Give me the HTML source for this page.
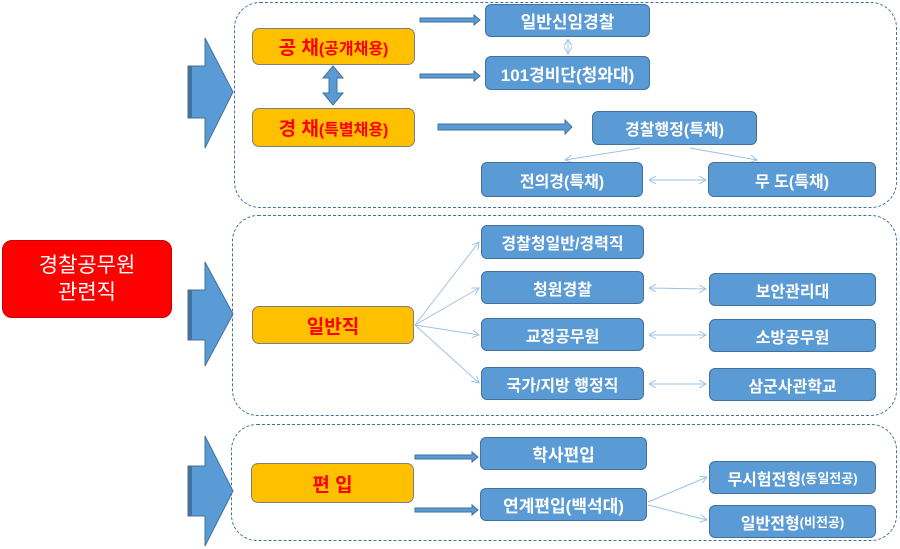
<!DOCTYPE html>
<html><head><meta charset="utf-8"><style>
body{margin:0;width:900px;height:549px;background:#fff;position:relative;overflow:hidden;font-family:"Liberation Sans","Noto Sans CJK KR",sans-serif;font-weight:bold}
.b{position:absolute;background:#5b9bd5;border:1px solid #41719c;border-radius:6px;color:#fff;display:flex;align-items:center;justify-content:center;font-size:16px;box-sizing:border-box}
.o{position:absolute;background:#ffc000;border:1px solid #7f7f7f;border-radius:7px;color:#f00;display:flex;align-items:center;justify-content:center;font-size:19px;box-sizing:border-box}
.c{position:absolute;border:1.5px dashed #41719c;border-radius:26px;box-sizing:border-box}
small{font-size:13px}
</style></head><body>
<div class="c" style="left:234px;top:2px;width:663px;height:206px"></div>
<div class="c" style="left:232px;top:215px;width:665px;height:201px"></div>
<div class="c" style="left:231px;top:424px;width:666px;height:117px"></div>
<svg width="900" height="549" style="position:absolute;left:0;top:0">
<defs><marker id="t" markerWidth="8" markerHeight="8" refX="7" refY="4" orient="auto"><path d="M0,0 L7,4 L0,8" fill="none" stroke="#9dc3e6" stroke-width="1"/></marker>
<marker id="ts" markerWidth="8" markerHeight="8" refX="1" refY="4" orient="auto"><path d="M7,0 L0,4 L7,8" fill="none" stroke="#9dc3e6" stroke-width="1"/></marker></defs>
<g fill="#5b9bd5" stroke="#41719c" stroke-width="1">
<path d="M188,66 H205 V38 L233,92 L205,148 V118 H188Z"/>
<path d="M188,290 H205 V262 L233,314 L205,366 V340 H188Z"/>
<path d="M188,466 H205 V436 L233,491 L205,546 V516 H188Z"/>
<path d="M420,18 H474 V15 L480,20 L474,25 V22 H420Z"/>
<path d="M420,74 H474 V71 L480,76 L474,81 V78 H420Z"/>
<path d="M438,124 H565 V120 L572,127 L565,134 V130 H438Z"/>
<path d="M415,455 H472 V452 L478,457 L472,462 V459 H415Z"/>
<path d="M415,508 H472 V505 L478,510 L472,515 V512 H415Z"/>
<path d="M333,66 L343,78 H337 V93 H343 L333,105 L323,93 H329 V78 H323Z"/>
</g>
<g fill="#41719c"><rect x="188" y="66" width="4" height="52"/><rect x="188" y="290" width="4" height="50"/><rect x="188" y="466" width="4" height="50"/></g>
<g stroke="#9dc3e6" stroke-width="1" fill="none" marker-end="url(#t)">
<line x1="568" y1="40" x2="568" y2="54" marker-start="url(#ts)"/>
<line x1="640" y1="148" x2="565" y2="160"/><line x1="690" y1="148" x2="757" y2="160"/>
<line x1="650" y1="180" x2="706" y2="180" marker-start="url(#ts)"/>
<line x1="415" y1="325" x2="479" y2="242"/><line x1="415" y1="325" x2="479" y2="288"/>
<line x1="415" y1="325" x2="479" y2="335"/><line x1="415" y1="325" x2="479" y2="383"/>
<line x1="650" y1="288" x2="706" y2="289" marker-start="url(#ts)"/>
<line x1="650" y1="335" x2="706" y2="335" marker-start="url(#ts)"/>
<line x1="650" y1="384" x2="706" y2="384" marker-start="url(#ts)"/>
<line x1="648" y1="502" x2="707" y2="477"/><line x1="648" y1="505" x2="707" y2="520"/>
</g></svg>
<div style="position:absolute;left:2px;top:240px;width:170px;height:78px;background:#f00;border:1px solid #c00;border-radius:10px;box-sizing:border-box;color:#fff;font-weight:normal;font-size:21px;text-align:center;line-height:27px;padding-top:11px">경찰공무원<br>관련직</div>
<div class="o" style="left:252px;top:28px;width:163px;height:37px">공 채<span style="font-size:16px">(공개채용)</span></div>
<div class="o" style="left:252px;top:108px;width:163px;height:39px">경 채<span style="font-size:16px">(특별채용)</span></div>
<div class="o" style="left:252px;top:306px;width:162px;height:38px">일반직</div>
<div class="o" style="left:251px;top:463px;width:163px;height:40px">편 입</div>
<div class="b" style="left:485px;top:4px;width:165px;height:33px;font-size:17px">일반신임경찰</div>
<div class="b" style="left:485px;top:56px;width:165px;height:34px;font-size:17px">101경비단(청와대)</div>
<div class="b" style="left:592px;top:111px;width:165px;height:34px">경찰행정(특채)</div>
<div class="b" style="left:481px;top:162px;width:162px;height:35px">전의경(특채)</div>
<div class="b" style="left:708px;top:162px;width:168px;height:35px">무 도(특채)</div>
<div class="b" style="left:481px;top:225px;width:163px;height:34px">경찰청일반/경력직</div>
<div class="b" style="left:481px;top:271px;width:163px;height:33px">청원경찰</div>
<div class="b" style="left:709px;top:273px;width:167px;height:33px">보안관리대</div>
<div class="b" style="left:481px;top:318px;width:163px;height:33px">교정공무원</div>
<div class="b" style="left:709px;top:319px;width:167px;height:33px">소방공무원</div>
<div class="b" style="left:481px;top:367px;width:163px;height:33px">국가/지방 행정직</div>
<div class="b" style="left:709px;top:368px;width:167px;height:33px">삼군사관학교</div>
<div class="b" style="left:480px;top:437px;width:167px;height:33px;font-size:17px">학사편입</div>
<div class="b" style="left:480px;top:488px;width:167px;height:33px;font-size:17px">연계편입(백석대)</div>
<div class="b" style="left:709px;top:461px;width:167px;height:33px">무시험전형<small>(동일전공)</small></div>
<div class="b" style="left:709px;top:505px;width:167px;height:33px">일반전형<small>(비전공)</small></div>
</body></html>
